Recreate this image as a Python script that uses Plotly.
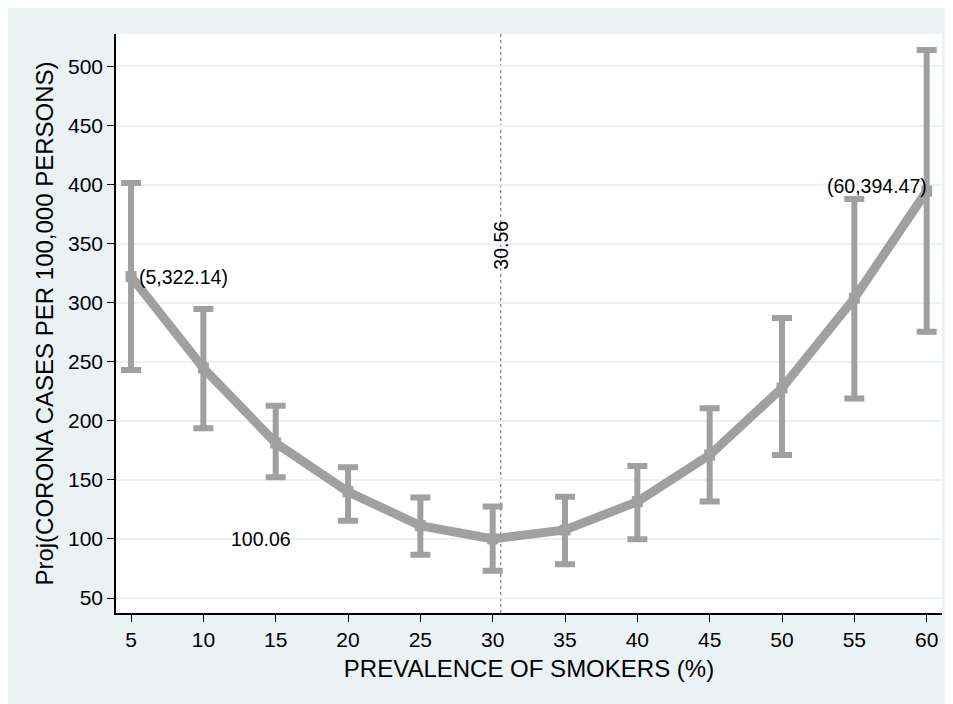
import plotly.graph_objects as go

# Data
smokers = [5, 10, 15, 20, 25, 30, 35, 40, 45, 50, 55, 60]
proj = [322.14, 244.7, 181.2, 140.0, 111.2, 100.06, 107.6, 131.6, 171.1, 227.8, 303.8, 394.47]
ci_low = [243.0, 193.7, 152.2, 115.5, 86.7, 73.0, 78.5, 99.7, 131.6, 171.1, 219.0, 275.5]
ci_high = [401.3, 294.7, 212.8, 160.7, 135.0, 127.5, 135.8, 161.8, 210.6, 287.0, 387.9, 514.0]

x_ticks = [5, 10, 15, 20, 25, 30, 35, 40, 45, 50, 55, 60]
y_ticks = [50, 100, 150, 200, 250, 300, 350, 400, 450, 500]

min_x = 30.56
min_y = 100.06

GRAY = "#A0A0A0"
BG = "#EAF2F3"
FONT = "Liberation Sans, Arial, sans-serif"

err_plus = [h - p for h, p in zip(ci_high, proj)]
err_minus = [p - l for p, l in zip(proj, ci_low)]

fig = go.Figure()
fig.add_trace(go.Scatter(
    x=smokers, y=proj, mode="lines+markers",
    line=dict(color=GRAY, width=9),
    marker=dict(symbol="square", size=11, color=GRAY),
    error_y=dict(type="data", symmetric=False, array=err_plus, arrayminus=err_minus,
                 color=GRAY, thickness=6, width=10),
    showlegend=False, hoverinfo="x+y",
))

# reference lines
fig.add_shape(type="line", xref="x", yref="paper", x0=min_x, x1=min_x, y0=0, y1=1,
              line=dict(color="#666666", width=1, dash="dot"), layer="below")
fig.add_shape(type="line", xref="paper", yref="y", x0=0, x1=1, y0=min_y, y1=min_y,
              line=dict(color="#666666", width=1, dash="dot"), layer="below")

ann_font = dict(family=FONT, size=19.5, color="black")
fig.add_annotation(x=min_x, y=349, text=f"{min_x:.2f}", textangle=-90, showarrow=False,
                   font=ann_font, xanchor="center", yanchor="middle")
fig.add_annotation(x=13.95, y=min_y, text=f"{min_y:.2f}", showarrow=False,
                   font=ann_font, xanchor="center", yanchor="middle")
fig.add_annotation(x=smokers[0], y=proj[0], text=f"({smokers[0]},{proj[0]:.2f})", showarrow=False,
                   font=ann_font, xanchor="left", yanchor="middle", xshift=6)
fig.add_annotation(x=smokers[-1], y=proj[-1], text=f"({smokers[-1]},{proj[-1]:.2f})", showarrow=False,
                   font=ann_font, xanchor="right", yanchor="middle", xshift=2, yshift=5)

fig.update_layout(
    width=953, height=704,
    margin=dict(l=108, r=19, t=26, b=99),
    paper_bgcolor=BG, plot_bgcolor="white",
    font=dict(family=FONT, color="black"),
    xaxis=dict(
        range=[3.96, 61.06], tickvals=x_ticks, ticktext=[str(v) for v in x_ticks],
        showgrid=False, zeroline=False, showline=True, linecolor="black", linewidth=1.5,
        ticks="outside", ticklen=7, tickwidth=1, tickcolor="black",
        tickfont=dict(family=FONT, size=21),
        title=dict(text="PREVALENCE OF SMOKERS (%)", font=dict(family=FONT, size=24), standoff=10),
    ),
    yaxis=dict(
        range=[37.3, 527.5], tickvals=y_ticks, ticktext=[str(v) for v in y_ticks],
        showgrid=True, gridcolor=BG, gridwidth=1.5,
        zeroline=False, showline=True, linecolor="black", linewidth=1.5,
        ticks="outside", ticklen=7, tickwidth=1, tickcolor="black",
        tickfont=dict(family=FONT, size=21),
        title=dict(text="Proj(CORONA CASES PER 100,000 PERSONS)", font=dict(family=FONT, size=24), standoff=8),
    ),
)

fig.write_html("out.html")
